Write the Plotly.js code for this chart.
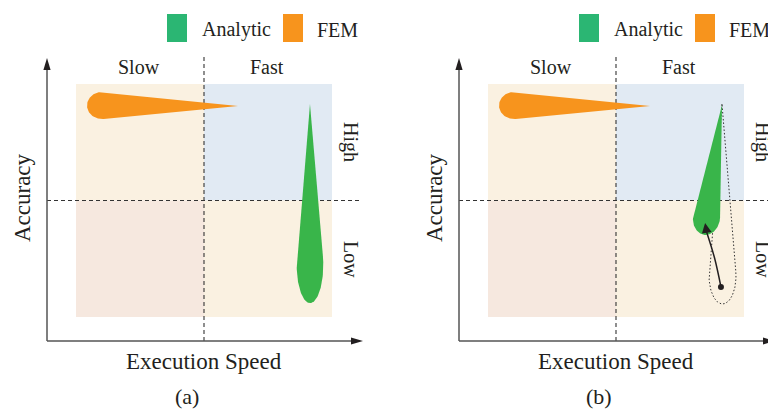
<!DOCTYPE html>
<html><head><meta charset="utf-8">
<script src="https://cdn.plot.ly/plotly-3.0.1.min.js"></script>
<style>html,body{margin:0;padding:0;background:#fff}#chart{width:768px;height:410px}</style>
</head><body><div id="chart"></div>
<script>
// ---------------- data ----------------
const speedLabels = ['Slow', 'Fast'];
const accuracyLabels = ['High', 'Low'];
const seriesNames = ['Analytic', 'FEM'];
const panelLabels = ['(a)', '(b)'];
const axisTitles = ['Execution Speed', 'Accuracy'];
const quadrantBounds = [0, 0.5, 1];          // speed / accuracy split (normalised)
// teardrop regions: [head speed, head accuracy, tip speed, tip accuracy]
const femRegion       = [0.1016, 0.9077, 0.6328, 0.9056];
const analyticRegionA = [0.914, 0.223, 0.914, 0.914];
const analyticRegionB = [0.8535, 0.425, 0.914, 0.910];
const analyticSpreadB = [0.916, 0.176, 0.914, 0.914];
// head spread of each region [along, across] (px)
const femHead = [15, 13.5];
const analyticHeadA = [38, 13.3];
const analyticHeadB = [17, 13.5];
const spreadHead = [28, 13.5];
// improvement path in (b)
const shiftSpeed = [0.910, 0.885, 0.854];
const shiftAcc   = [0.129, 0.253, 0.365];
const shiftTip   = [0.848, 0.403];

// ---------------- geometry / style ----------------
const SX = 256, SY = 233;                 // px per unit
const FONT = 'Liberation Serif, Times New Roman, serif';
const TXT = '#231f20';
const GREEN = '#39b54a', GREEN_LEG = '#2bb673', ORANGE = '#f7941d';
const QUAD = {hs: '#faf1e1', hf: '#e1eaf3', ls: '#f6e8df', lf: '#faf1e1'};
const X0 = -29/SX, Y0 = -24/SY;           // axis origin

function teardrop(r, head, n) {
  n = n || 80;
  const a = head[0], w = head[1];
  const cx = r[0]*SX, cy = r[1]*SY, tx = r[2]*SX, ty = r[3]*SY;
  const dx = tx-cx, dy = ty-cy, L = Math.hypot(dx, dy);
  const ux = dx/L, uy = dy/L, vx = -uy, vy = ux;
  const th0 = Math.acos(Math.min(1, w/(L*w/a)));
  const xs = [r[2]], ys = [r[3]];
  for (let i = 0; i <= n; i++) {
    const th = th0 + (2*Math.PI - 2*th0)*i/n;
    const al = a*Math.cos(th), pe = w*Math.sin(th);
    xs.push((cx + ux*al + vx*pe)/SX); ys.push((cy + uy*al + vy*pe)/SY);
  }
  xs.push(r[2]); ys.push(r[3]);
  return {x: xs, y: ys};
}

const traces = [];
function blob(r, head, color, xa, ya, name) {
  const t = teardrop(r, head);
  traces.push({type: 'scatter', mode: 'lines', x: t.x, y: t.y, xaxis: xa, yaxis: ya,
    fill: 'toself', fillcolor: color, line: {width: 0, color: color}, name: name,
    hoverinfo: 'skip', showlegend: false});
}
// panel a
blob(femRegion, femHead, ORANGE, 'x', 'y', 'FEM');
blob(analyticRegionA, analyticHeadA, GREEN, 'x', 'y', 'Analytic');
// panel b
blob(femRegion, femHead, ORANGE, 'x2', 'y2', 'FEM');
const sp = teardrop(analyticSpreadB, spreadHead);
traces.push({type: 'scatter', mode: 'lines', x: sp.x, y: sp.y, xaxis: 'x2', yaxis: 'y2',
  line: {color: '#333', width: 1, dash: '1.5px,2px'}, hoverinfo: 'skip', showlegend: false});
blob(analyticRegionB, analyticHeadB, GREEN, 'x2', 'y2', 'Analytic');
traces.push({type: 'scatter', mode: 'lines', x: shiftSpeed, y: shiftAcc, xaxis: 'x2', yaxis: 'y2',
  line: {color: '#231f20', width: 1.5, shape: 'spline'}, hoverinfo: 'skip', showlegend: false});
traces.push({type: 'scatter', mode: 'markers', x: [shiftSpeed[0]], y: [shiftAcc[0]], xaxis: 'x2', yaxis: 'y2',
  marker: {color: '#231f20', size: 6}, hoverinfo: 'skip', showlegend: false});

const shapes = [], annotations = [];
function panel(xr, yr, label) {
  const b = quadrantBounds;
  const q = [[b[0], b[1], b[1], b[2], QUAD.hs], [b[1], b[2], b[1], b[2], QUAD.hf],
             [b[0], b[1], b[0], b[1], QUAD.ls], [b[1], b[2], b[0], b[1], QUAD.lf]];
  q.forEach(c => shapes.push({type: 'rect', xref: xr, yref: yr, x0: c[0], x1: c[1], y0: c[2], y1: c[3],
    fillcolor: c[4], line: {width: 0}, layer: 'below'}));
  const dash = {color: '#333', width: 1.1, dash: '4px,3px'};
  shapes.push({type: 'line', xref: xr, yref: yr, x0: b[1], x1: b[1], y0: Y0, y1: 1.1202, line: dash, layer: 'below'});
  shapes.push({type: 'line', xref: xr, yref: yr, x0: X0, x1: 1.1094, y0: b[1], y1: b[1], line: dash, layer: 'below'});
  const ax = {color: '#555', width: 1.5};
  shapes.push({type: 'line', xref: xr, yref: yr, x0: X0, x1: X0, y0: Y0, y1: 1.0858, line: ax});
  shapes.push({type: 'line', xref: xr, yref: yr, x0: X0, x1: 1.0977, y0: Y0, y1: Y0, line: ax});
  shapes.push({type: 'path', xref: xr, yref: yr, xsizemode: 'pixel', ysizemode: 'pixel',
    xanchor: X0, yanchor: 1.1116, path: 'M0,0L-3.6,-12L3.6,-12Z', fillcolor: '#231f20', line: {width: 0}});
  shapes.push({type: 'path', xref: xr, yref: yr, xsizemode: 'pixel', ysizemode: 'pixel',
    xanchor: 1.1211, yanchor: Y0, path: 'M0,0L-12,3.6L-12,-3.6Z', fillcolor: '#231f20', line: {width: 0}});
  // legend
  shapes.push({type: 'rect', xref: xr, yref: yr, x0: 0.3555, x1: 0.4336, y0: 1.1803, y1: 1.3004,
    fillcolor: GREEN_LEG, line: {width: 0}});
  shapes.push({type: 'rect', xref: xr, yref: yr, x0: 0.8086, x1: 0.8867, y0: 1.1803, y1: 1.3004,
    fillcolor: ORANGE, line: {width: 0}});
  const f = s => ({family: FONT, size: s, color: TXT});
  const A = (x, y, text, size, extra) => annotations.push(Object.assign({xref: xr, yref: yr, x: x, y: y,
    text: text, showarrow: false, font: f(size), xanchor: 'center', yanchor: 'middle'}, extra || {}));
  A(0.4844, 1.2339, seriesNames[0], 20, {xanchor: 'left'});
  A(0.9336, 1.2339, seriesNames[1], 20, {xanchor: 'left'});
  A(0.246, 1.075, speedLabels[0], 20);
  A(0.746, 1.075, speedLabels[1], 20);
  A(1.074, 0.751, accuracyLabels[0], 20, {textangle: 90});
  A(1.074, 0.245, accuracyLabels[1], 20, {textangle: 90});
  A(0.5, -0.193, axisTitles[0], 23);
  A(-0.2109, 0.5107, axisTitles[1], 23, {textangle: -90});
  A(0.4336, -0.341, label, 22);
}
panel('x', 'y', panelLabels[0]);
panel('x2', 'y2', panelLabels[1]);

annotations.push({xref: 'x2', yref: 'y2', axref: 'x2', ayref: 'y2', x: shiftTip[0], y: shiftTip[1],
  ax: shiftSpeed[2], ay: shiftAcc[2], showarrow: true, arrowhead: 2, arrowsize: 1.3, arrowwidth: 1.5,
  arrowcolor: '#231f20', text: '', standoff: 0});

const yr = [-93/SY, 317/SY];
const layout = {
  width: 768, height: 410, margin: {l: 0, r: 0, t: 0, b: 0},
  paper_bgcolor: '#fff', plot_bgcolor: 'rgba(0,0,0,0)', showlegend: false,
  xaxis:  {domain: [0, 0.5], range: [-76/SX, 308/SX], visible: false, fixedrange: true},
  yaxis:  {domain: [0, 1], range: yr, visible: false, fixedrange: true},
  xaxis2: {domain: [0.5, 1], range: [-104/SX, 280/SX], visible: false, fixedrange: true, anchor: 'y2'},
  yaxis2: {domain: [0, 1], range: yr, visible: false, fixedrange: true, anchor: 'x2'},
  shapes: shapes, annotations: annotations
};
Plotly.newPlot('chart', traces, layout, {staticPlot: true, displayModeBar: false});
</script></body></html>
